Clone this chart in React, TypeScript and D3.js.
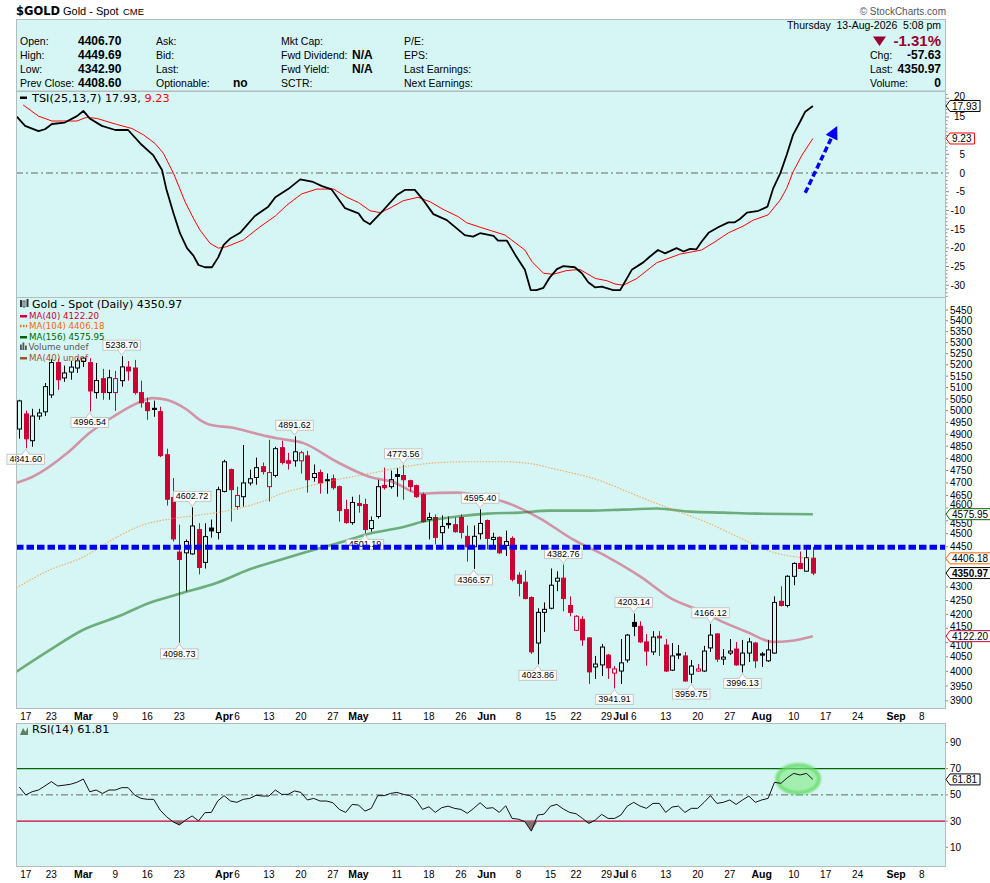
import React, { useEffect } from "react";
import * as d3 from "d3";

// ---- calendar (trading days, holidays skipped) ----
const firstDay = "2026-02-13";
const lastDay = "2026-09-15";
const holidays = ["2026-02-16", "2026-04-03", "2026-05-25", "2026-06-19", "2026-07-03", "2026-09-07"];

// ---- daily candles, Feb 13 .. Aug 13 ----
const candleOpen = [
  4922, 4986, 4873, 4977, 4995, 5068, 5210, 5142, 5168, 5186, 5215,
  5210, 5078, 5139, 5078, 5078, 5130, 5190, 5186, 5078, 5034,
  5010, 4996, 4815, 4642, 4430, 4427, 4423, 4516, 4391, 4522,
  4505, 4666, 4754, 4606, 4645, 4700, 4722, 4766, 4685, 4730,
  4844, 4790, 4790, 4790, 4810, 4722, 4742, 4713, 4717, 4685,
  4594, 4543, 4618, 4614, 4520, 4567, 4690, 4685, 4734, 4730,
  4709, 4689, 4653, 4555, 4563, 4504, 4540, 4535, 4563, 4490,
  4450, 4500, 4551, 4478, 4486, 4455, 4482, 4343, 4317, 4261,
  4098, 4207, 4222, 4321, 4332, 4232, 4143, 4182, 4116, 4015,
  4022, 4056, 3994, 4001, 4039, 4171, 4157, 4102, 4067, 4122,
  4091, 4004, 4060, 4053, 3990, 4001, 4001, 4081, 4130, 4042,
  4063, 4077, 4022, 4063, 4098, 4060, 4036, 4063, 4247, 4232,
  4339, 4387, 4358, 4406.7,
];
const candleHigh = [
  5047, 5000, 5008, 5008, 5120, 5225, 5228, 5197, 5218, 5230, 5234,
  5230, 5208, 5182, 5178, 5173, 5238.7, 5217, 5222, 5130, 5056,
  5043, 5017, 4840, 4720, 4535, 4478, 4602.72, 4541, 4541, 4555,
  4685, 4794, 4758, 4685, 4855, 4754, 4803, 4783, 4877, 4848,
  4873, 4823, 4891.62, 4831, 4831, 4775, 4754, 4738, 4734, 4690,
  4633, 4645, 4653, 4637, 4567, 4713, 4762, 4750, 4760, 4773.56,
  4713, 4693, 4661, 4582, 4575, 4571, 4567, 4563, 4575, 4532,
  4532, 4595.4, 4555, 4504, 4490, 4512, 4490, 4354, 4361, 4265,
  4222, 4243, 4368, 4358, 4382.76, 4265, 4197, 4193, 4119, 4053,
  4095, 4060, 4018, 4112, 4130, 4203.14, 4175, 4130, 4140, 4140,
  4112, 4098, 4091, 4067, 4039, 4025, 4088, 4166.12, 4133, 4077,
  4112, 4102, 4109, 4116, 4102, 4067, 4109, 4265, 4302, 4343,
  4391, 4432, 4440, 4449.69,
];
const candleLow = [
  4881, 4841.6, 4848, 4961, 4977, 5055, 5090, 5125, 5134, 5164, 5190,
  4996.54, 5052, 5047, 5047, 4999, 5104, 5130, 5069, 5013, 4961,
  4974, 4805, 4610, 4470, 4098.73, 4283, 4420, 4346, 4368, 4485,
  4478, 4662, 4547, 4594, 4606, 4690, 4693, 4734, 4626, 4722,
  4775, 4754, 4766, 4738, 4661, 4705, 4657, 4657, 4673, 4547,
  4539, 4535, 4582, 4501.19, 4508, 4559, 4673, 4677, 4645, 4633,
  4665, 4640, 4543, 4478, 4459, 4455, 4520, 4504, 4482, 4394,
  4366.57, 4478, 4440, 4448, 4423, 4415, 4320, 4265, 4254, 4060,
  4023.86, 4137, 4218, 4284, 4211, 4193, 4140, 4088, 3957, 3974,
  3984, 3974, 3941.91, 3957, 4030, 4122, 4098, 4019, 4056, 4053,
  3998, 4001, 4042, 3964, 3959.75, 3998, 3998, 4067, 4032, 4022,
  4056, 4019, 3996.13, 4032, 4011, 4015, 4032, 4060, 4228, 4225,
  4306, 4365, 4357, 4342.9,
];
const candleClose = [
  5042, 4881, 4977, 4990, 5104, 5210, 5134, 5164, 5190, 5218, 5230,
  5085, 5131, 5078, 5143, 5139, 5191, 5173, 5078, 5034, 5000,
  5005, 4811, 4635, 4480, 4402, 4470, 4530, 4372, 4489, 4511,
  4673, 4786, 4673, 4650, 4700, 4717, 4762, 4746, 4742, 4840,
  4783, 4780, 4827, 4823, 4713, 4738, 4700, 4709, 4681, 4590,
  4543, 4622, 4610, 4516, 4551, 4685, 4681, 4713, 4726, 4713,
  4685, 4645, 4547, 4563, 4486, 4528, 4535, 4508, 4505, 4450,
  4490, 4540, 4482, 4486, 4427, 4470, 4328, 4313, 4257, 4067,
  4207, 4218, 4306, 4332, 4257, 4207, 4193, 4109, 3998, 4025,
  4084, 4012, 4008, 4029, 4126, 4157, 4102, 4070, 4119, 4116,
  4001, 4053, 4056, 3967, 4018, 4008, 4070, 4126, 4042, 4049,
  4070, 4022, 4063, 4102, 4036, 4056, 4074, 4243, 4232, 4339,
  4387, 4368, 4408.6, 4350.97,
];

// candle numbers (index into the arrays above) that carry a high / low callout
const calloutHighs = [16, 27, 43, 60, 72, 85, 96, 108];
const calloutLows = [1, 11, 25, 54, 71, 81, 93, 105, 113];

// moving averages as [day index from Feb 17, value]
const ma40: [number, number][] = [
  [-1.5, 4700], [1, 4724], [6.5, 4822], [10, 4906], [13.6, 4973], [16.8, 5024], [19.9, 5054],
  [22, 5047], [25.2, 5004], [27.2, 4961], [28.8, 4940], [32.4, 4927], [35.5, 4906], [38.2, 4889],
  [40, 4880], [43.3, 4864], [48.6, 4786], [53.8, 4724], [57.4, 4704], [61.6, 4657], [64.5, 4660],
  [67.4, 4661], [71.5, 4645], [74.6, 4626], [77.7, 4594], [80.4, 4559], [85.5, 4478], [90.8, 4413],
  [96, 4339], [101.1, 4254], [104.9, 4218], [109, 4172], [112.7, 4137], [116.8, 4102], [119.4, 4105],
  [123, 4122.2],
];
const ma104: [number, number][] = [
  [-1.5, 4296], [3.8, 4363], [9, 4411], [14.3, 4488], [18.3, 4534], [22, 4555], [27.2, 4573],
  [32.4, 4594], [37.7, 4633], [39.7, 4655], [43.3, 4681], [48.6, 4713], [53.8, 4738], [59, 4765],
  [64.3, 4782], [69.4, 4786], [74.6, 4786], [79.9, 4774], [81.9, 4761], [89.3, 4713], [96, 4644],
  [101.1, 4594], [106.5, 4543], [111.6, 4484], [116.8, 4429], [121, 4410], [123, 4406.18],
];
const ma156: [number, number][] = [
  [-1.5, 3998], [3.8, 4074], [9, 4145], [14.3, 4191], [19.4, 4242], [24.6, 4278], [29.9, 4315],
  [35, 4365], [39.7, 4400], [43.3, 4426], [48.6, 4463], [53.8, 4501], [59, 4526], [62.1, 4547],
  [67.4, 4567], [72.1, 4578], [77.2, 4582], [81.9, 4590], [88.2, 4590], [93.3, 4594], [98.6, 4598],
  [103.8, 4586], [109, 4582], [114.3, 4578], [123, 4575.95],
];

// TSI(25,13,7) and its signal line
const tsiMain: [number, number][] = [
  [-1.4, 15.05], [-0.1, 12.6], [2, 11.2], [3, 11.7], [4.1, 13.1], [6.1, 13.5], [8, 15.2], [9, 16.6],
  [10, 14.6], [11.9, 12.6], [14, 11.5], [16, 11.5], [17.9, 7.9], [19.9, 4.8], [21.3, 0.8], [22, -4.5],
  [23.1, -10.8], [24.1, -16.1], [25.2, -20.1], [26.2, -22.1], [27, -24.6], [28, -25.2], [29.1, -25.2],
  [30.1, -22.5], [30.9, -19.3], [31.9, -17.6], [33.5, -16], [35.8, -11.5], [37.9, -9], [39, -6.5],
  [41, -4.3], [42.9, -1.7], [44.9, -2.4], [46.3, -3.5], [47.8, -4.4], [49.9, -9.4], [52, -10.8],
  [52.8, -12.7], [53.8, -13.7], [55.9, -9.9], [58, -5.9], [59.3, -4.5], [60.8, -4.5], [62.1, -7.2],
  [63.7, -11], [65.8, -12.6], [68.6, -16.6], [69.9, -17], [71, -16.1], [73.1, -16.8], [73.8, -18.1],
  [75.2, -18.1], [76.5, -21.9], [78, -25.9], [78.9, -31.3], [79.8, -31.3], [80.9, -30.7], [81.9, -27.9],
  [83, -25.7], [84, -24.9], [85.8, -25.2], [86.9, -26.8], [87.9, -29.2], [89, -30.6], [90, -30.4],
  [91.8, -31.3], [92.9, -31.3], [94.7, -25.9], [96.5, -23.9], [97.5, -22.4], [98.8, -20.6], [99.9, -21.5],
  [101.7, -20.1], [102.8, -21], [103.8, -20.3], [104.8, -20.4], [105.6, -18.4], [106.7, -16], [108.2, -14.5],
  [109.8, -13.2], [110.8, -13.2], [111.6, -12.3], [112.7, -10.6], [114.5, -10.1], [115.9, -9], [116.8, -4.1],
  [117.9, -0.1], [118.9, 4.8], [119.9, 10.2], [121, 13.7], [121.8, 16.4], [123, 17.93],
];
const tsiSignal: [number, number][] = [
  [-0.4, 18.2], [2, 15.2], [4.1, 13.9], [8, 13.9], [9.5, 14.9], [11.1, 14.6], [14.2, 13], [16.6, 11.9],
  [18.4, 10.2], [20.2, 7.9], [21.5, 5.3], [23.1, -0.1], [24.9, -7.7], [26.2, -12.1], [27.2, -15.2],
  [28.8, -18.8], [30.1, -20.1], [31.4, -19.7], [34, -17.9], [36.6, -14.4], [39, -11.5], [40.8, -8.6],
  [43.1, -5.6], [45.5, -4.3], [48.1, -4.3], [50.2, -6.5], [52, -7.9], [53.8, -10.1], [55.4, -10.6],
  [56.9, -9.4], [59, -7.4], [61.3, -6.5], [63.2, -7.7], [65.2, -9.7], [67.6, -11.7], [68.9, -13.3],
  [71, -14.5], [74.9, -16.6], [78, -20.6], [79.1, -23.7], [80.9, -26.8], [82.4, -27.1], [84.5, -26.1],
  [86.6, -25.8], [89, -28.2], [90.8, -28.8], [92.1, -29.7], [93.4, -30], [95.5, -28.2], [98.6, -24],
  [102.2, -21.7], [105.6, -20.6], [107.7, -18.4], [109.8, -16], [112.1, -14.2], [113.7, -12.6],
  [116, -11.2], [117.9, -7.2], [118.9, -4.1], [119.9, 0.3], [121.3, 4.8], [123, 9.23],
];

// RSI(14), one value per candle (Feb 13 .. Aug 13)
const rsi14 = [
  56,
  49.9, 52.4, 53.7, 56.8, 60.1, 56.8, 57.4, 58.1, 59.6, 62.1,
  52.4, 53.7, 51.1, 53.7, 53.7, 55.5, 55.5, 49.9, 47.3, 46.6,
  46.6, 38.4, 33.3, 29.5, 27, 30.8, 33.9, 30.1, 36.4, 36.6,
  45.3, 49.4, 45.3, 44.3, 46.6, 47.3, 49.7, 49.1, 49.1, 53.7,
  50.4, 50.4, 53, 51.9, 46.1, 47.3, 45.3, 45.3, 44, 38.9,
  36.6, 42.7, 42.2, 37.6, 39.7, 49.4, 49.4, 51.1, 51.9, 50.4,
  49.4, 46.1, 38.9, 40.9, 36.6, 40.2, 41.4, 39.7, 38.9, 35.9,
  39.7, 44, 39.7, 40.2, 36.6, 41.7, 32, 31.4, 29.5, 22.3,
  34.6, 35.3, 41.4, 42.7, 39.2, 36.6, 35.6, 32, 28.2, 30.8,
  35.1, 32, 32, 34.6, 41.4, 44.3, 41.4, 39.7, 43.5, 43.5,
  36.6, 40.7, 41.4, 36.6, 39.7, 39.7, 44.3, 49.4, 43.5, 44.3,
  46.1, 42.7, 46.1, 49.1, 44.3, 46.1, 47.3, 59.6, 58.8, 63.1,
  66.4, 65.2, 66.4, 61.81,
];

// hand-drawn annotations
const supportLevel = 4448;
const tsiArrow: [number, number][] = [[121.8, -5.3], [126.8, 12.6]];
const rsiHighlight: [number, number] = [120.7, 62.1];

// axis labels
const xTicks: [string, string][] = [
  ["2026-02-17", "17"], ["2026-02-23", "23"], ["2026-03-02", "Mar"], ["2026-03-09", "9"],
  ["2026-03-16", "16"], ["2026-03-23", "23"], ["2026-04-01", "Apr"], ["2026-04-06", "6"],
  ["2026-04-13", "13"], ["2026-04-20", "20"], ["2026-04-27", "27"], ["2026-05-01", "May"],
  ["2026-05-11", "11"], ["2026-05-18", "18"], ["2026-05-26", "26"], ["2026-06-01", "Jun"],
  ["2026-06-08", "8"], ["2026-06-15", "15"], ["2026-06-22", "22"], ["2026-06-29", "29"],
  ["2026-07-01", "Jul"], ["2026-07-06", "6"], ["2026-07-13", "13"], ["2026-07-20", "20"],
  ["2026-07-27", "27"], ["2026-08-03", "Aug"], ["2026-08-10", "10"], ["2026-08-17", "17"],
  ["2026-08-24", "24"], ["2026-09-01", "Sep"], ["2026-09-08", "8"],
];
const priceTicks = d3.range(3900, 5451, 50);
const tsiTicks = d3.range(-30, 21, 5);
const rsiTicks = [10, 30, 50, 70, 90];

const W = 990;
const H = 883;
const L = 16;
const R = 946;
const TSI_T = 91;
const PRICE_T = 297;
const PRICE_B = 709;
const RSI_T = 723;
const RSI_B = 867;
const BG = "#d6f6f6";
const RED = "#cc0033";
const BORDER = "#b4bcbc";
const SANS = "'Liberation Sans', Arial, sans-serif";
const LEG = "'DejaVu Sans', Verdana, sans-serif";

const parseDay = d3.utcParse("%Y-%m-%d");
const fmtDay = d3.utcFormat("%Y-%m-%d");
const tradingDays = d3
  .utcDays(parseDay(firstDay)!, d3.utcDay.offset(parseDay(lastDay)!, 1))
  .map((d) => fmtDay(d))
  .filter((s) => {
    const wd = parseDay(s)!.getUTCDay();
    return wd !== 0 && wd !== 6 && !holidays.includes(s);
  });
// Feb 13 is day -1, Feb 17 is day 0
const dayIndex = (s: string) => tradingDays.indexOf(s) - 1;

const x = d3.scaleLinear().domain([-1.52, 143.8]).range([L, R]);
const yT = d3.scaleLinear().domain([-33.16, 21.93]).range([PRICE_T, TSI_T]);
const yP = d3.scaleLog().domain([3873, 5511]).range([PRICE_B, PRICE_T]);
const yR = d3.scaleLinear().domain([-5.1, 104.9]).range([RSI_B, RSI_T]);

const textW = (s: string, size: number) =>
  s.split("").reduce((a, c) => a + (c === "." ? 0.278 : c === "-" ? 0.333 : 0.556), 0) * size;

// axis labels right under a last-value tag are hidden (as on the original),
// near ones are nudged just clear of the tag
const placeLabel = (tags: number[]) => (py: number): number | null => {
  for (const t of tags) {
    const d = py - t;
    if (Math.abs(d) < 5) return null;
    if (Math.abs(d) < 9.5) return t + Math.sign(d) * 9.5;
  }
  return py;
};

function Tag({ y, text, color, bold }: { y: number; text: string; color: string; bold?: boolean }) {
  const w = textW(text, 10) + 5;
  return (
    <g>
      <path
        d={`M${R},${y} L${R + 4},${y - 5.5} H${R + 4 + w} V${y + 5.5} H${R + 4} Z`}
        fill="#fff"
        stroke={color}
        strokeWidth={1}
      />
      <text x={R + 6} y={y + 3.6} fontSize={10} fontFamily={SANS} fontWeight={bold ? "bold" : "normal"} fill="#000">
        {text}
      </text>
    </g>
  );
}

function Callout({ cx, tip, text, above }: { cx: number; tip: number; text: string; above: boolean }) {
  const w = textW(text, 9) + 5;
  const h = 10;
  const by = above ? tip - 5 - h : tip + 5;
  const py = above ? tip - 5.5 : tip + 5.5;
  return (
    <g>
      <rect x={cx - w / 2} y={by} width={w} height={h} fill="#fff" stroke="#c4c4c4" strokeWidth={1} />
      <polygon points={`${cx - 4},${py} ${cx + 4},${py} ${cx},${tip}`} fill="#fff" />
      <polyline points={`${cx - 4},${py} ${cx},${tip} ${cx + 4},${py}`} fill="none" stroke="#c4c4c4" strokeWidth={1} />
      <text x={cx} y={by + 8} textAnchor="middle" fontSize={9} fontFamily={SANS} fill="#000">
        {text}
      </text>
    </g>
  );
}

export default function App() {
  useEffect(() => {
    document.body.style.margin = "0";
  }, []);

  const n = candleClose.length;
  const last = n - 1;
  const prevClose = candleClose[last - 1];
  const chg = candleClose[last] - prevClose;
  const pct = (chg / prevClose) * 100;

  const lastTsi = tsiMain[tsiMain.length - 1][1];
  const lastSig = tsiSignal[tsiSignal.length - 1][1];
  const last40 = ma40[ma40.length - 1][1];
  const last104 = ma104[ma104.length - 1][1];
  const last156 = ma156[ma156.length - 1][1];
  const lastRsi = rsi14[rsi14.length - 1];

  const tsiPlace = placeLabel([yT(lastTsi), yT(lastSig)]);
  const pricePlace = placeLabel([yP(last40), yP(last104), yP(last156), yP(candleClose[last])]);
  const rsiPlace = placeLabel([yR(lastRsi)]);

  const tsiLine = d3.line<[number, number]>().x((d) => x(d[0])).y((d) => yT(d[1]));
  const maLine = d3
    .line<[number, number]>()
    .x((d) => x(d[0]))
    .y((d) => yP(d[1]))
    .curve(d3.curveMonotoneX);
  const rsiLine = d3.line<number>().x((_, i) => x(i - 1)).y((d) => yR(d));
  const rsiLowArea = d3
    .area<number>()
    .x((_, i) => x(i - 1))
    .y0(yR(30))
    .y1((d) => yR(Math.min(d, 30)));
  const rsiHighArea = d3
    .area<number>()
    .x((_, i) => x(i - 1))
    .y0(yR(70))
    .y1((d) => yR(Math.max(d, 70)));

  // arrow geometry in pixels
  const a0 = [x(tsiArrow[0][0]), yT(tsiArrow[0][1])];
  const a1 = [x(tsiArrow[1][0]), yT(tsiArrow[1][1])];
  const len = Math.hypot(a1[0] - a0[0], a1[1] - a0[1]);
  const ux = (a1[0] - a0[0]) / len;
  const uy = (a1[1] - a0[1]) / len;
  const hb = [a1[0] - ux * 13, a1[1] - uy * 13];

  const rows = [45, 59, 73, 87];
  const col1 = ["Open:", "High:", "Low:", "Prev Close:"];
  const col1v = [candleOpen[last], candleHigh[last], candleLow[last], prevClose].map((v) => v.toFixed(2));
  const col2 = ["Ask:", "Bid:", "Last:", "Optionable:"];
  const col3 = ["Mkt Cap:", "Fwd Dividend:", "Fwd Yield:", "SCTR:"];
  const col4 = ["P/E:", "EPS:", "Last Earnings:", "Next Earnings:"];

  return (
    <div style={{ position: "absolute", left: 0, top: 0 }}>
      <svg width={W} height={H} viewBox={`0 0 ${W} ${H}`} style={{ display: "block", background: "#fff" }}>
        <defs>
          <clipPath id="clipTsi">
            <rect x={L} y={TSI_T} width={R - L} height={PRICE_T - TSI_T} />
          </clipPath>
          <clipPath id="clipPrice">
            <rect x={L} y={PRICE_T} width={R - L} height={PRICE_B - PRICE_T} />
          </clipPath>
          <clipPath id="clipRsi">
            <rect x={L} y={RSI_T} width={R - L} height={RSI_B - RSI_T} />
          </clipPath>
          <filter id="soft" x="-30%" y="-30%" width="160%" height="160%">
            <feGaussianBlur stdDeviation={0.9} />
          </filter>
        </defs>

        {/* title */}
        <text x={16} y={15} fontFamily={LEG} fontSize={11.5} fontWeight="bold" fill="#000">
          $GOLD
        </text>
        <text x={63} y={15} fontFamily={SANS} fontSize={11} fill="#000">
          Gold - Spot
        </text>
        <text x={123} y={15} fontFamily={SANS} fontSize={9.5} fill="#000">
          CME
        </text>
        <text x={R} y={15} textAnchor="end" fontFamily={SANS} fontSize={10} fill="#555">
          © StockCharts.com
        </text>

        {/* header box */}
        <rect x={L + 0.5} y={19.5} width={R - L - 1} height={TSI_T - 19.5} fill={BG} stroke={BORDER} />
        <g fontFamily={SANS} fontSize={10.5} fill="#000">
          {rows.map((ry, i) => (
            <g key={i}>
              <text x={20} y={ry}>{col1[i]}</text>
              <text x={78} y={ry} fontWeight="bold" fontSize={12}>{col1v[i]}</text>
              <text x={156} y={ry}>{col2[i]}</text>
              <text x={281} y={ry}>{col3[i]}</text>
              <text x={404} y={ry}>{col4[i]}</text>
            </g>
          ))}
          <text x={233} y={rows[3]} fontWeight="bold" fontSize={12}>no</text>
          <text x={352} y={rows[1]} fontWeight="bold" fontSize={12}>N/A</text>
          <text x={352} y={rows[2]} fontWeight="bold" fontSize={12}>N/A</text>
          <text x={941} y={29} textAnchor="end" style={{ whiteSpace: "pre" }}>
            {"Thursday  13-Aug-2026  5:08 pm"}
          </text>
          <polygon points="873,36.5 886,36.5 879.5,46" fill="#990033" />
          <text x={941} y={46} textAnchor="end" fontWeight="bold" fontSize={15} fill="#990033">
            {pct.toFixed(2)}%
          </text>
          <text x={870} y={59}>Chg:</text>
          <text x={941} y={59} textAnchor="end" fontWeight="bold" fontSize={12}>{chg.toFixed(2)}</text>
          <text x={870} y={73}>Last:</text>
          <text x={941} y={73} textAnchor="end" fontWeight="bold" fontSize={12}>{candleClose[last].toFixed(2)}</text>
          <text x={870} y={87}>Volume:</text>
          <text x={941} y={87} textAnchor="end" fontWeight="bold" fontSize={12}>0</text>
        </g>

        {/* panel backgrounds */}
        <rect x={L} y={TSI_T} width={R - L} height={PRICE_T - TSI_T} fill={BG} />
        <rect x={L} y={PRICE_T} width={R - L} height={PRICE_B - PRICE_T} fill={BG} />
        <rect x={L} y={RSI_T} width={R - L} height={RSI_B - RSI_T} fill={BG} />

        {/* ---------- TSI panel ---------- */}
        <line x1={L} x2={R} y1={yT(0)} y2={yT(0)} stroke="#666" strokeDasharray="7,3,2,3" />
        <g clipPath="url(#clipTsi)">
          <path d={tsiLine(tsiSignal)!} fill="none" stroke="#ff0000" strokeWidth={1} />
          <path d={tsiLine(tsiMain)!} fill="none" stroke="#000" strokeWidth={1.8} strokeLinejoin="round" />
          <line
            x1={a0[0]}
            y1={a0[1]}
            x2={hb[0] + ux * 2}
            y2={hb[1] + uy * 2}
            stroke="#0000ee"
            strokeWidth={3.5}
            strokeDasharray="6,3"
          />
          <polygon
            points={`${a1[0]},${a1[1]} ${hb[0] - uy * 6.5},${hb[1] + ux * 6.5} ${hb[0] + uy * 6.5},${hb[1] - ux * 6.5}`}
            fill="#0000ee"
          />
        </g>
        <rect x={20} y={96.5} width={7} height={2.5} fill="#000" />
        <text x={32} y={102} fontFamily={LEG} fontSize={11.3} fill="#000">
          TSI(25,13,7) {lastTsi.toFixed(2)}, <tspan fill="#ff0000">{lastSig.toFixed(2)}</tspan>
        </text>

        {/* ---------- price panel ---------- */}
        <g clipPath="url(#clipPrice)">
          {candleClose.map((c, i) => {
            const o = candleOpen[i];
            const cx = Math.round(x(i - 1)) + 0.5;
            const prev = i > 0 ? candleClose[i - 1] : o;
            const color = i === 0 || c >= prev ? "#000" : RED;
            const up = c >= o;
            const top = yP(Math.max(o, c));
            const bot = yP(Math.min(o, c));
            return (
              <g key={i}>
                <line x1={cx} x2={cx} y1={yP(candleHigh[i])} y2={yP(candleLow[i])} stroke={color} strokeWidth={1} />
                <rect
                  x={cx - 2}
                  y={top}
                  width={4}
                  height={Math.max(0.5, bot - top)}
                  fill={up ? BG : color}
                  stroke={color}
                  strokeWidth={1}
                />
              </g>
            );
          })}
          <path d={maLine(ma156)!} fill="none" stroke="#006600" strokeOpacity={0.5} strokeWidth={2.6} />
          <path d={maLine(ma40)!} fill="none" stroke={RED} strokeOpacity={0.4} strokeWidth={2.6} />
          <path
            d={maLine(ma104)!}
            fill="none"
            stroke="#ff8c1a"
            strokeOpacity={0.7}
            strokeWidth={1.1}
            strokeDasharray="1.5,1.5"
          />
        </g>
        {calloutHighs.map((i) => (
          <Callout key={"h" + i} cx={x(i - 1)} tip={yP(candleHigh[i]) - 1} text={candleHigh[i].toFixed(2)} above />
        ))}
        {calloutLows.map((i) => (
          <Callout key={"l" + i} cx={x(i - 1)} tip={yP(candleLow[i]) + 1} text={candleLow[i].toFixed(2)} above={false} />
        ))}
        <line
          x1={L}
          x2={R}
          y1={yP(supportLevel)}
          y2={yP(supportLevel)}
          stroke="#0000ee"
          strokeWidth={5}
          strokeDasharray="7.5,3"
        />

        {/* price legend */}
        <g fontFamily={LEG}>
          <rect x={20} y={300} width={2} height={7} fill="#333" />
          <rect x={23} y={301} width={2} height={6} fill="none" stroke="#333" strokeWidth={0.8} />
          <rect x={26.5} y={299} width={2} height={8} fill="#333" />
          <text x={32} y={308} fontSize={11} fill="#000">Gold - Spot (Daily) {candleClose[last].toFixed(2)}</text>
          <g fontSize={8.7}>
            <rect x={20} y={315} width={7} height={2.5} fill={RED} />
            <text x={29} y={318.5} fill={RED}>MA(40) {last40.toFixed(2)}</text>
            <line x1={20} x2={27} y1={326} y2={326} stroke="#ff6600" strokeWidth={2.5} strokeDasharray="1.5,1.5" />
            <text x={29} y={329} fill="#ff6600">MA(104) {last104.toFixed(2)}</text>
            <rect x={20} y={336} width={7} height={2.5} fill="#006600" />
            <text x={29} y={339.5} fill="#006600">MA(156) {last156.toFixed(2)}</text>
            <rect x={20} y={344.5} width={1.8} height={5.5} fill="#555" />
            <rect x={22.5} y={342.5} width={1.8} height={7.5} fill="#555" />
            <rect x={25} y={345.5} width={1.8} height={4.5} fill="#555" />
            <text x={28.5} y={350} fill="#555">Volume undef</text>
            <rect x={20} y={357} width={7} height={2.5} fill="#a0522d" />
            <text x={29} y={360.5} fill="#a0522d">MA(40) undef</text>
          </g>
        </g>

        {/* ---------- RSI panel ---------- */}
        <line x1={L} x2={R} y1={yR(70)} y2={yR(70)} stroke="#006600" strokeWidth={1.2} />
        <line x1={L} x2={R} y1={yR(30)} y2={yR(30)} stroke={RED} strokeWidth={1.2} />
        <line x1={L} x2={R} y1={yR(50)} y2={yR(50)} stroke="#666" strokeDasharray="7,3,2,3" />
        <g clipPath="url(#clipRsi)">
          <path d={rsiLowArea(rsi14)!} fill="#8a6f6f" />
          <path d={rsiHighArea(rsi14)!} fill="#8a6f6f" />
          <ellipse
            cx={x(rsiHighlight[0])}
            cy={yR(rsiHighlight[1])}
            rx={21}
            ry={14}
            fill="rgba(130,235,130,0.6)"
            stroke="rgba(90,215,90,0.7)"
            strokeWidth={4}
            filter="url(#soft)"
          />
          <path d={rsiLine(rsi14)!} fill="none" stroke="#111" strokeWidth={1} />
        </g>
        <polygon points="20,735 23,728 25.5,732 28,727 28,735" fill="#5d7f5d" />
        <text x={32} y={733} fontFamily={LEG} fontSize={11.3} fill="#000">
          RSI(14) {lastRsi.toFixed(2)}
        </text>

        {/* panel borders */}
        <g fill="none" stroke={BORDER} strokeWidth={1}>
          <rect x={L + 0.5} y={TSI_T + 0.5} width={R - L - 1} height={PRICE_T - TSI_T} />
          <rect x={L + 0.5} y={PRICE_T + 0.5} width={R - L - 1} height={PRICE_B - PRICE_T - 1} />
          <rect x={L + 0.5} y={RSI_T + 0.5} width={R - L - 1} height={RSI_B - RSI_T - 1} />
        </g>

        {/* x axis labels */}
        {[PRICE_B + 11, RSI_B + 11].map((by, k) => (
          <g key={k} fontFamily={SANS} fontSize={10} fill="#000">
            {xTicks.map(([d, lab]) => {
              const month = /[A-Za-z]/.test(lab);
              return (
                <text
                  key={d}
                  x={x(dayIndex(d)) + (lab === "29" ? -1.5 : 0)}
                  y={by}
                  textAnchor="middle"
                  fontWeight={month ? "bold" : "normal"}
                  fontSize={month ? 10.5 : 10}
                >
                  {lab}
                </text>
              );
            })}
          </g>
        ))}

        {/* right axes */}
        <g fontFamily={SANS} fontSize={10} fill="#000">
          {d3.range(-33, 22).map((v) => (
            <line key={"tm" + v} x1={R} x2={R + (v % 5 === 0 ? 3 : 1.5)} y1={yT(v)} y2={yT(v)} stroke="#666" strokeWidth={0.8} />
          ))}
          {tsiTicks.map((v) => {
            const ly = tsiPlace(yT(v));
            return ly === null ? null : (
              <text key={"t" + v} x={965} y={ly + 3.5} textAnchor="end">{v}</text>
            );
          })}
          {priceTicks.map((v) => {
            const ly = pricePlace(yP(v));
            return (
              <g key={"p" + v}>
                <line x1={R} x2={R + 2} y1={yP(v)} y2={yP(v)} stroke="#666" strokeWidth={0.8} />
                {ly !== null && <text x={950} y={ly + 3.5}>{v}</text>}
              </g>
            );
          })}
          {rsiTicks.map((v) => {
            const ly = rsiPlace(yR(v));
            return (
              <g key={"r" + v}>
                <line x1={R} x2={R + 2} y1={yR(v)} y2={yR(v)} stroke="#666" strokeWidth={0.8} />
                {ly !== null && <text x={950} y={ly + 3.5}>{v}</text>}
              </g>
            );
          })}
        </g>

        {/* last-value tags */}
        <Tag y={yT(lastTsi)} text={lastTsi.toFixed(2)} color="#000" />
        <Tag y={yT(lastSig)} text={lastSig.toFixed(2)} color="#ff0000" />
        <Tag y={yP(last156)} text={last156.toFixed(2)} color="#006600" />
        <Tag y={yP(last104)} text={last104.toFixed(2)} color="#ff6600" />
        <Tag y={yP(candleClose[last])} text={candleClose[last].toFixed(2)} color="#000" bold />
        <Tag y={yP(last40)} text={last40.toFixed(2)} color={RED} />
        <Tag y={yR(lastRsi)} text={lastRsi.toFixed(2)} color="#000" />
      </svg>
    </div>
  );
}
